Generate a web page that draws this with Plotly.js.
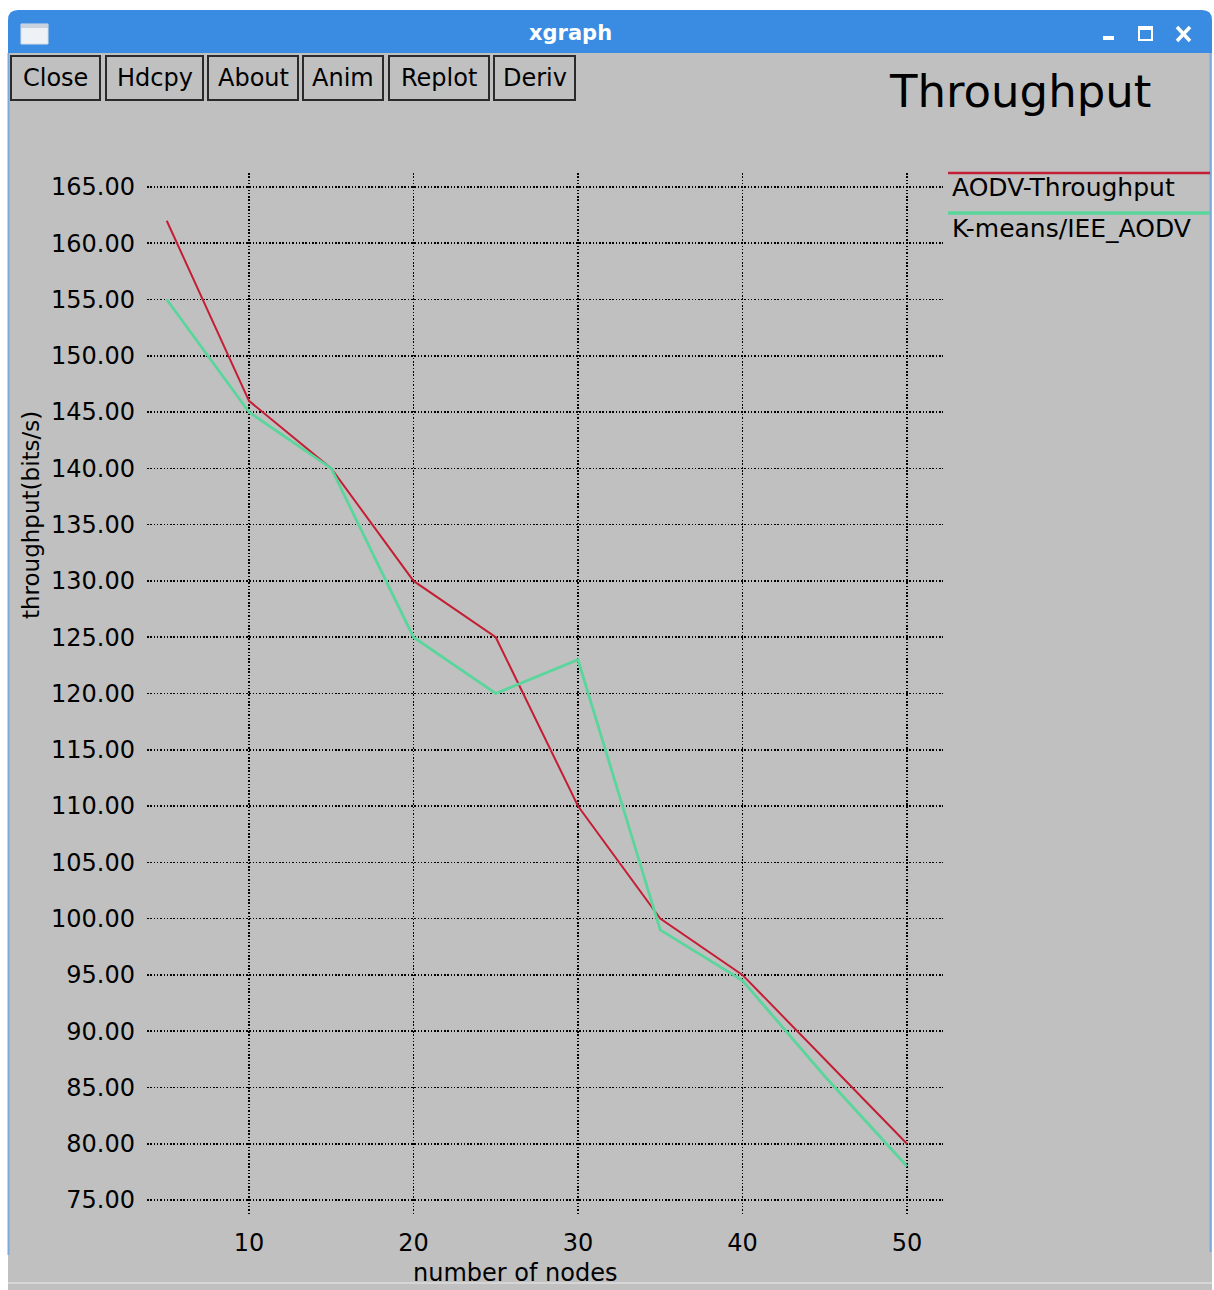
<!DOCTYPE html>
<html>
<head>
<meta charset="utf-8">
<script src="https://cdn.plot.ly/plotly-3.0.1.min.js"></script>
<style>
  html, body { margin: 0; padding: 0; background: #ffffff; overflow: hidden; }
  #chart { width: 1214px; height: 1290px; }
</style>
</head>
<body>
<div id="chart"></div>
<script>
// ---------------- data ----------------
const nodes = [5, 10, 15, 20, 25, 30, 35, 40, 45, 50];
const aodvThroughput = [162, 146, 140, 130, 125, 110, 100, 95, 87.5, 80];
const kmeansThroughput = [155, 145, 140, 125, 120, 123, 99, 94.5, 86, 78];
const seriesNames = ['AODV-Throughput', 'K-means/IEE_AODV'];
const xTickVals = [10, 20, 30, 40, 50];
const yTickVals = [75, 80, 85, 90, 95, 100, 105, 110, 115, 120, 125, 130, 135, 140, 145, 150, 155, 160, 165];
const buttonLabels = ['Close', 'Hdcpy', 'About', 'Anim', 'Replot', 'Deriv'];
const chartTitle = 'Throughput';
const windowTitle = 'xgraph';
const xTitle = 'number of nodes';
const yTitle = 'throughput(bits/s)';

// ---------------- layout helpers ----------------
const W = 1214, H = 1290;
const M = { l: 147, r: 271, t: 173, b: 75 };
const PW = W - M.l - M.r, PH = H - M.t - M.b;
const fx = p => (p - M.l) / PW;          // pixel x -> paper x
const fy = p => (H - M.b - p) / PH;      // pixel y -> paper y

const FONT = 'DejaVu Sans, Liberation Sans, Arial, sans-serif';
const seriesColors = ['#c41e34', '#5ad69c'];
const seriesWidths = [2, 2.8];
const GRAY = '#c0c0c0';
const BLUE = '#3a8ce2';

const shapes = [];
const annotations = [];

function rectPx(x0, y0, x1, y1, fill, lineColor, lineWidth, layer) {
  shapes.push({
    type: 'rect', xref: 'paper', yref: 'paper', layer: layer || 'below',
    x0: fx(x0), x1: fx(x1), y0: fy(y1), y1: fy(y0),
    fillcolor: fill || 'rgba(0,0,0,0)',
    line: { color: lineColor || 'rgba(0,0,0,0)', width: lineWidth || 0 }
  });
}
function linePx(x0, y0, x1, y1, color, width, layer) {
  shapes.push({
    type: 'line', xref: 'paper', yref: 'paper', layer: layer || 'below',
    x0: fx(x0), x1: fx(x1), y0: fy(y0), y1: fy(y1),
    line: { color: color, width: width }
  });
}
function textPx(text, x, y, size, opts) {
  opts = opts || {};
  annotations.push({
    xref: 'paper', yref: 'paper', x: fx(x), y: fy(y),
    text: text, showarrow: false,
    xanchor: opts.xanchor || 'center', yanchor: 'middle',
    textangle: opts.angle || 0,
    font: { family: opts.family || FONT, size: size, color: opts.color || '#000000', weight: opts.weight || 'normal' }
  });
}

// window body
rectPx(8, 40, 1212, 1290, GRAY);
// title bar with rounded top corners
(function () {
  const x0 = 8, x1 = 1212, y0 = 10, y1 = 53, r = 10;
  const X = fx, Y = fy;
  const path = 'M ' + X(x0) + ',' + Y(y1) +
    ' L ' + X(x0) + ',' + Y(y0 + r) +
    ' Q ' + X(x0) + ',' + Y(y0) + ' ' + X(x0 + r) + ',' + Y(y0) +
    ' L ' + X(x1 - r) + ',' + Y(y0) +
    ' Q ' + X(x1) + ',' + Y(y0) + ' ' + X(x1) + ',' + Y(y0 + r) +
    ' L ' + X(x1) + ',' + Y(y1) + ' Z';
  shapes.push({ type: 'path', xref: 'paper', yref: 'paper', layer: 'below', path: path,
    fillcolor: BLUE, line: { width: 0 } });
})();
// window side borders and bottom
linePx(8.5, 53, 8.5, 1255, '#7fa9da', 2);
linePx(1210.5, 53, 1210.5, 1252, '#7fa9da', 2);
linePx(8, 1283, 1212, 1283, '#d6d6d6', 2);
// title bar icon (left)
rectPx(21, 24, 48, 44, '#eef1f5', '#d8dde4', 1);
rectPx(21, 24, 48, 28, '#c9d3df');
// window controls (right)
rectPx(1103, 36, 1114, 40, '#ffffff');
rectPx(1139, 27, 1152, 40, 'rgba(0,0,0,0)', '#ffffff', 2);
rectPx(1139, 27, 1152, 30, '#ffffff');
linePx(1177, 27, 1190, 41, '#ffffff', 3.5);
linePx(1177, 41, 1190, 27, '#ffffff', 3.5);
textPx(windowTitle, 570, 33, 21, { color: '#ffffff', family: 'DejaVu Sans, sans-serif', weight: 'bold' });

// buttons
const buttonBoxes = [[11, 100], [106, 203], [208, 298], [303, 383], [389, 489], [494, 575]];
buttonLabels.forEach((lab, i) => {
  const b = buttonBoxes[i];
  rectPx(b[0], 56, b[1], 100, 'rgba(0,0,0,0)', '#2a2a2a', 2);
  textPx(lab, (b[0] + b[1]) / 2, 78, 24);
});

// chart title
textPx(chartTitle, 1020, 92, 45);

// legend (line above text, as in xgraph)
const legendY = [173, 213];
seriesNames.forEach((name, i) => {
  linePx(948, legendY[i], 1210, legendY[i], seriesColors[i], seriesWidths[i] + 0.5);
  textPx(name, 950, legendY[i] + 15, 25, { xanchor: 'left' });
});

// axis titles
textPx(xTitle, 515, 1273, 24);
textPx(yTitle, 31, 515, 23, { angle: -90 });

// ---------------- traces ----------------
const traces = [
  { x: nodes, y: aodvThroughput, name: seriesNames[0], type: 'scatter', mode: 'lines',
    line: { color: seriesColors[0], width: seriesWidths[0] }, hoverinfo: 'skip' },
  { x: nodes, y: kmeansThroughput, name: seriesNames[1], type: 'scatter', mode: 'lines',
    line: { color: seriesColors[1], width: seriesWidths[1] }, hoverinfo: 'skip' }
];

const gridStyle = {
  showgrid: true, gridcolor: '#000000', gridwidth: 1.5, griddash: '1.5px,1.8px',
  zeroline: false, showline: false, ticks: '',
  tickfont: { family: FONT, size: 24, color: '#000000' }
};

const layout = {
  width: W, height: H,
  margin: M,
  paper_bgcolor: '#ffffff',
  plot_bgcolor: 'rgba(0,0,0,0)',
  showlegend: false,
  xaxis: Object.assign({}, gridStyle, {
    range: [3.8, 52.19], tickvals: xTickVals, ticktext: xTickVals.map(String),
    ticklabelstandoff: 11, fixedrange: true
  }),
  yaxis: Object.assign({}, gridStyle, {
    range: [73.67, 166.24], tickvals: yTickVals, tickformat: '.2f',
    ticklabelstandoff: 11, fixedrange: true
  }),
  shapes: shapes,
  annotations: annotations
};

Plotly.newPlot('chart', traces, layout, { staticPlot: true, displayModeBar: false });
</script>
</body>
</html>
